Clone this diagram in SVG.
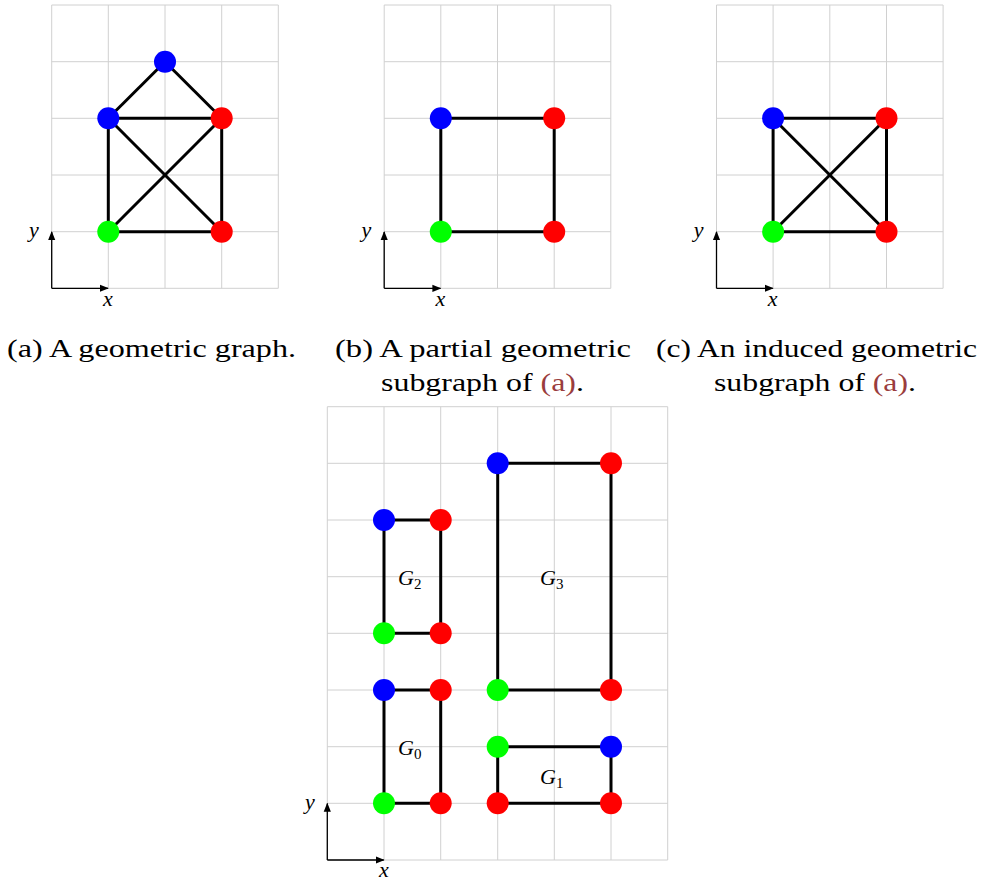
<svg xmlns="http://www.w3.org/2000/svg" width="981" height="881" viewBox="0 0 981 881">
<style>
.grid{stroke:#d0d0d0;stroke-width:1;fill:none}
.edge{stroke:#000;stroke-width:3;fill:none}
.axis{stroke:#000;stroke-width:1.3;fill:none}
.blue{fill:#0000ff}.red{fill:#ff0000}.green{fill:#00ff00}
.cap{font-family:"Liberation Serif","DejaVu Serif",serif;font-size:26px;fill:#000}
.lnk{fill:#9a3d3d}
.ax{font-family:"Liberation Serif","DejaVu Serif",serif;font-style:italic;font-size:22px;fill:#000}
.gl{font-family:"Liberation Serif","DejaVu Serif",serif;font-style:italic;font-size:22px;fill:#000}
.sub{font-style:normal;font-size:15px}
</style>
<defs>
<marker id="arr" viewBox="0 0 10 10" refX="9" refY="5" markerWidth="9" markerHeight="9" markerUnits="userSpaceOnUse" orient="auto">
<path d="M0,1 L10,5 L0,9 Z" fill="#000"/>
</marker>
<g id="gridA">
<path class="grid" d="M51.7,5V288.3M108.3,5V288.3M165,5V288.3M221.7,5V288.3M278.3,5V288.3M51.7,5H278.3M51.7,61.7H278.3M51.7,118.3H278.3M51.7,175H278.3M51.7,231.7H278.3M51.7,288.3H278.3"/>
<line class="axis" x1="51.7" y1="288.3" x2="51.7" y2="232" marker-end="url(#arr)"/>
<line class="axis" x1="51.7" y1="288.3" x2="108" y2="288.3" marker-end="url(#arr)"/>
<text class="ax" x="29" y="237">y</text>
<text class="ax" x="103" y="306">x</text>
</g>
</defs>

<g id="panel-a">
<use href="#gridA"/>
<g id="connectors-a">
<line class="edge" x1="165" y1="61.7" x2="108.3" y2="118.3"/>
<line class="edge" x1="165" y1="61.7" x2="221.7" y2="118.3"/>
<line class="edge" x1="108.3" y1="118.3" x2="221.7" y2="118.3"/>
<line class="edge" x1="108.3" y1="118.3" x2="108.3" y2="231.7"/>
<line class="edge" x1="221.7" y1="118.3" x2="221.7" y2="231.7"/>
<line class="edge" x1="108.3" y1="231.7" x2="221.7" y2="231.7"/>
<line class="edge" x1="108.3" y1="118.3" x2="221.7" y2="231.7"/>
<line class="edge" x1="221.7" y1="118.3" x2="108.3" y2="231.7"/>
</g>
<g id="a-n1"><circle class="blue" cx="165" cy="61.7" r="11"/></g>
<g id="a-n2"><circle class="blue" cx="108.3" cy="118.3" r="11"/></g>
<g id="a-n3"><circle class="red" cx="221.7" cy="118.3" r="11"/></g>
<g id="a-n4"><circle class="green" cx="108.3" cy="231.7" r="11"/></g>
<g id="a-n5"><circle class="red" cx="221.7" cy="231.7" r="11"/></g>
<text class="cap" x="7" y="357" textLength="289" lengthAdjust="spacingAndGlyphs">(a) A geometric graph.</text>
</g>

<g id="panel-b" transform="translate(332.5,0)">
<use href="#gridA"/>
<g id="connectors-b">
<line class="edge" x1="108.3" y1="118.3" x2="221.7" y2="118.3"/>
<line class="edge" x1="108.3" y1="118.3" x2="108.3" y2="231.7"/>
<line class="edge" x1="221.7" y1="118.3" x2="221.7" y2="231.7"/>
<line class="edge" x1="108.3" y1="231.7" x2="221.7" y2="231.7"/>
</g>
<g id="b-n2"><circle class="blue" cx="108.3" cy="118.3" r="11"/></g>
<g id="b-n3"><circle class="red" cx="221.7" cy="118.3" r="11"/></g>
<g id="b-n4"><circle class="green" cx="108.3" cy="231.7" r="11"/></g>
<g id="b-n5"><circle class="red" cx="221.7" cy="231.7" r="11"/></g>
</g>
<text class="cap" x="335" y="357" textLength="296" lengthAdjust="spacingAndGlyphs">(b) A partial geometric</text>
<text class="cap" x="381" y="391" textLength="203" lengthAdjust="spacingAndGlyphs">subgraph of <tspan class="lnk">(a)</tspan>.</text>

<g id="panel-c" transform="translate(664.8,0)">
<use href="#gridA"/>
<g id="connectors-c">
<line class="edge" x1="108.3" y1="118.3" x2="221.7" y2="118.3"/>
<line class="edge" x1="108.3" y1="118.3" x2="108.3" y2="231.7"/>
<line class="edge" x1="221.7" y1="118.3" x2="221.7" y2="231.7"/>
<line class="edge" x1="108.3" y1="231.7" x2="221.7" y2="231.7"/>
<line class="edge" x1="108.3" y1="118.3" x2="221.7" y2="231.7"/>
<line class="edge" x1="221.7" y1="118.3" x2="108.3" y2="231.7"/>
</g>
<g id="c-n2"><circle class="blue" cx="108.3" cy="118.3" r="11"/></g>
<g id="c-n3"><circle class="red" cx="221.7" cy="118.3" r="11"/></g>
<g id="c-n4"><circle class="green" cx="108.3" cy="231.7" r="11"/></g>
<g id="c-n5"><circle class="red" cx="221.7" cy="231.7" r="11"/></g>
</g>
<text class="cap" x="656" y="357" textLength="321" lengthAdjust="spacingAndGlyphs">(c) An induced geometric</text>
<text class="cap" x="714" y="391" textLength="202" lengthAdjust="spacingAndGlyphs">subgraph of <tspan class="lnk">(a)</tspan>.</text>

<g id="panel-d">
<path class="grid" d="M327.3,406.7V860M384,406.7V860M440.7,406.7V860M497.7,406.7V860M554.3,406.7V860M611,406.7V860M667.7,406.7V860M327.3,406.7H667.7M327.3,463.3H667.7M327.3,520H667.7M327.3,576.7H667.7M327.3,633.3H667.7M327.3,690H667.7M327.3,746.7H667.7M327.3,803.3H667.7M327.3,860H667.7"/>
<line class="axis" x1="327.3" y1="860" x2="327.3" y2="803.6" marker-end="url(#arr)"/>
<line class="axis" x1="327.3" y1="860" x2="383.7" y2="860" marker-end="url(#arr)"/>
<text class="ax" x="305" y="809">y</text>
<text class="ax" x="379" y="877">x</text>
<g id="connectors-d">
<path class="edge" d="M384,520H440.7V633.3H384Z"/>
<path class="edge" d="M384,690H440.7V803.3H384Z"/>
<path class="edge" d="M497.7,463.3H611V690H497.7Z"/>
<path class="edge" d="M497.7,746.7H611V803.3H497.7Z"/>
</g>
<g id="G2">
<circle class="blue" cx="384" cy="520" r="11"/>
<circle class="red" cx="440.7" cy="520" r="11"/>
<circle class="green" cx="384" cy="633.3" r="11"/>
<circle class="red" cx="440.7" cy="633.3" r="11"/>
<text class="gl" x="398" y="585">G<tspan class="sub" dy="4">2</tspan></text>
</g>
<g id="G0">
<circle class="blue" cx="384" cy="690" r="11"/>
<circle class="red" cx="440.7" cy="690" r="11"/>
<circle class="green" cx="384" cy="803.3" r="11"/>
<circle class="red" cx="440.7" cy="803.3" r="11"/>
<text class="gl" x="398" y="755">G<tspan class="sub" dy="4">0</tspan></text>
</g>
<g id="G3">
<circle class="blue" cx="497.7" cy="463.3" r="11"/>
<circle class="red" cx="611" cy="463.3" r="11"/>
<circle class="green" cx="497.7" cy="690" r="11"/>
<circle class="red" cx="611" cy="690" r="11"/>
<text class="gl" x="540" y="585">G<tspan class="sub" dy="4">3</tspan></text>
</g>
<g id="G1">
<circle class="green" cx="497.7" cy="746.7" r="11"/>
<circle class="blue" cx="611" cy="746.7" r="11"/>
<circle class="red" cx="497.7" cy="803.3" r="11"/>
<circle class="red" cx="611" cy="803.3" r="11"/>
<text class="gl" x="540" y="784">G<tspan class="sub" dy="4">1</tspan></text>
</g>
</g>
</svg>
